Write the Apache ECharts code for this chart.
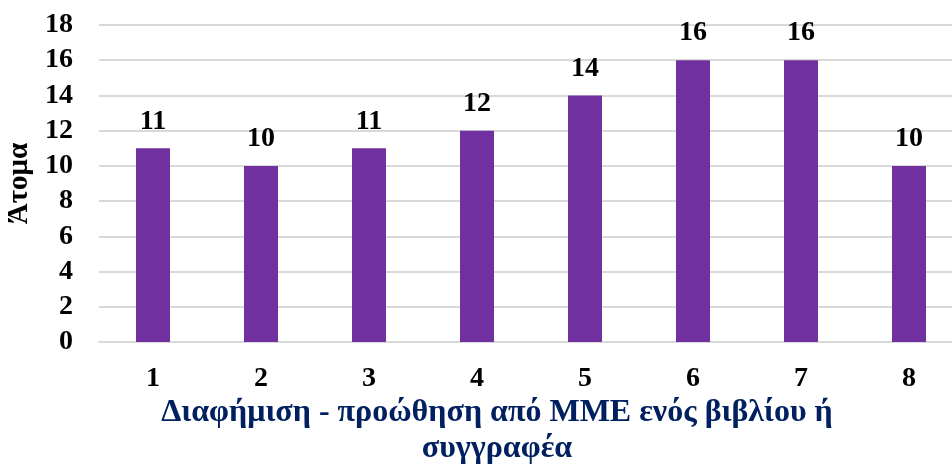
<!DOCTYPE html>
<html>
<head>
<meta charset="utf-8">
<script src="https://cdn.jsdelivr.net/npm/echarts@6/dist/echarts.min.js"></script>
<style>
  html, body { margin: 0; padding: 0; background: #fff; }
  #chart { width: 952px; height: 467px; }
</style>
</head>
<body>
<div id="chart"></div>
<script>
// Chart data
const categories = ['1', '2', '3', '4', '5', '6', '7', '8'];
const values = [11, 10, 11, 12, 14, 16, 16, 10];
const yAxisName = 'Άτομα';
const xAxisTitle = 'Διαφήμιση - προώθηση από ΜΜΕ ενός βιβλίου ή\nσυγγραφέα';

const font = '"Liberation Serif", "Times New Roman", serif';

const chart = echarts.init(document.getElementById('chart'), null, { renderer: 'canvas' });

chart.setOption({
    backgroundColor: '#ffffff',
    animation: false,
    textStyle: { fontFamily: font },
    title: {
        text: xAxisTitle,
        left: 497,
        top: 395,
        textAlign: 'center',
        padding: 0,
        textStyle: {
            fontFamily: font,
            fontSize: 32,
            fontWeight: 'bold',
            color: '#002060',
            lineHeight: 36,
            align: 'center'
        }
    },
    grid: {
        left: 99,
        top: 25,
        right: -11,
        bottom: 125,
        outerBoundsMode: 'none',
        containLabel: false
    },
    xAxis: {
        type: 'category',
        data: categories,
        axisLine: { lineStyle: { color: '#d9d9d9', width: 2 } },
        axisTick: { show: false },
        axisLabel: {
            color: '#000',
            fontFamily: font,
            fontSize: 28,
            fontWeight: 'bold',
            margin: 23
        }
    },
    yAxis: {
        type: 'value',
        min: 0,
        max: 18,
        interval: 2,
        name: yAxisName,
        nameLocation: 'middle',
        nameGap: 62,
        nameTextStyle: {
            color: '#000',
            fontFamily: font,
            fontSize: 29,
            fontWeight: 'bold'
        },
        axisLine: { show: false },
        axisTick: { show: false },
        axisLabel: {
            color: '#000',
            fontFamily: font,
            fontSize: 28,
            fontWeight: 'bold',
            margin: 26
        },
        splitLine: { lineStyle: { color: '#d9d9d9', width: 2 } }
    },
    series: [{
        type: 'bar',
        data: values,
        barWidth: 34,
        itemStyle: { color: '#7030a0' },
        label: {
            show: true,
            position: 'top',
            distance: 13,
            color: '#000',
            fontFamily: font,
            fontSize: 28,
            fontWeight: 'bold'
        }
    }]
});
</script>
</body>
</html>
